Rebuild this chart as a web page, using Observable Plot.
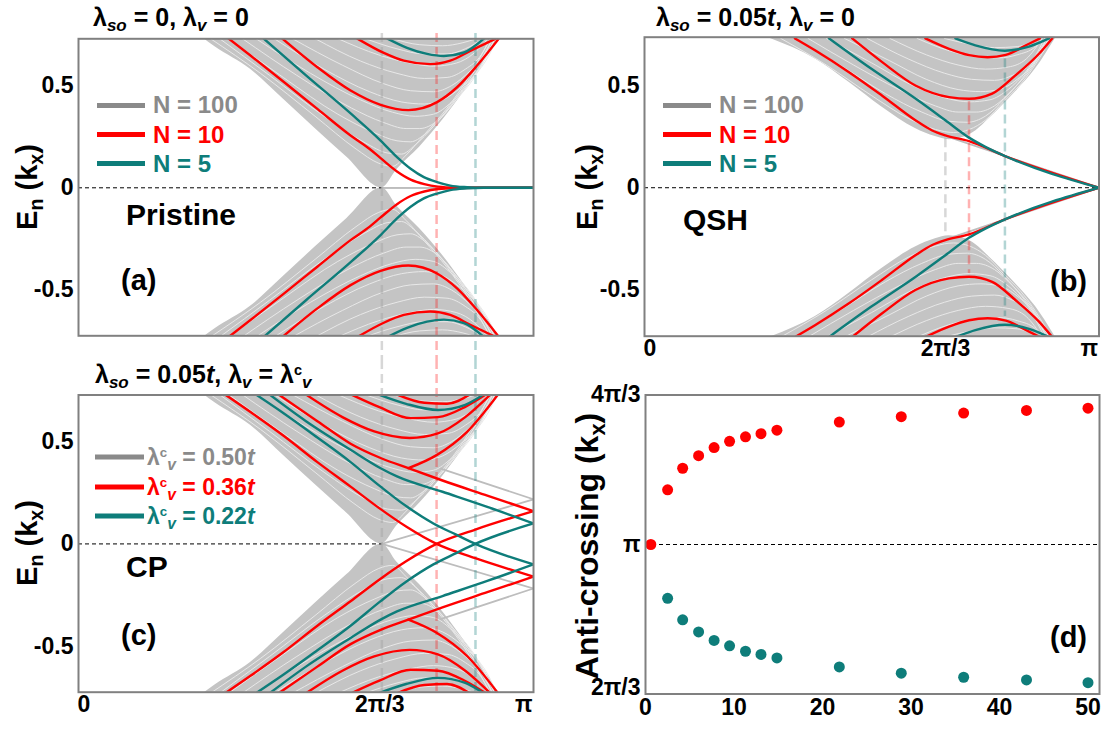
<!DOCTYPE html>
<html>
<head>
<meta charset="utf-8">
<script src="https://cdn.jsdelivr.net/npm/d3@7"></script>
<script src="https://cdn.jsdelivr.net/npm/@observablehq/plot@0.6"></script>
<style>
  html,body{margin:0;padding:0;background:#fff;}
  #fig{position:relative;width:1105px;height:732px;overflow:hidden;font-family:"Liberation Sans",Arial,Helvetica,sans-serif;font-weight:bold;color:#000;}
  #fig svg{position:absolute;background:transparent;}
  .lbl{position:absolute;white-space:nowrap;line-height:1;}
  .lbl sub, .leg sub{font-size:0.68em;vertical-align:-0.32em;line-height:0;}
  .lbl sup, .leg sup{font-size:0.58em;vertical-align:0.55em;line-height:0;font-style:normal;}
  .leg{position:absolute;display:flex;align-items:center;white-space:nowrap;line-height:1;}
  .sw{display:inline-block;height:5px;}
</style>
</head>
<body>
<div id="fig"></div>
<script>
// ---------------- colours / fonts ----------------
const RED = "#ff0000", TEAL = "#0e7d7a", BAND_GRAY = "#c4c4c4", STRIPE = "#e8e8e8", LEG_GRAY = "#8a8a8a";
const FONT = '"Liberation Sans", Arial, Helvetica, sans-serif';

// ---------------- shared tick data ----------------
const eTicks = [0.5, 0, -0.5];
const eTickText = ["0.5", "0", "-0.5"];
const kTicks = [0, 2/3, 1];                 // in units of π
const kTickText = ["0", "2π/3", "π"];
const nTicks = [0, 10, 20, 30, 40, 50];
const acTicks = [4/3, 1, 2/3];              // in units of π
const acTickText = ["4π/3", "π", "2π/3"];

// ---------------- panel (a): pristine (upper half, k in units of π) ----------------
const aFan = [[0.275,0.73],[0.30,0.69],[0.378,0.58],[0.45,0.434],[0.52,0.29],[0.59,0.15],[0.6667,0.0],[0.70,0.09],[0.75,0.20],[0.80,0.33],[0.85,0.48],[0.925,0.73]];
const aStripes = [
  [[0.29,0.73],[0.40,0.56],[0.52,0.35],[0.61,0.19],[0.66,0.12],[0.69,0.105],[0.72,0.16],[0.76,0.26],[0.81,0.39],[0.86,0.55],[0.905,0.73]],
  [[0.31,0.73],[0.42,0.55],[0.54,0.35],[0.63,0.22],[0.68,0.17],[0.71,0.165],[0.74,0.21],[0.78,0.30],[0.83,0.44],[0.87,0.57],[0.91,0.73]],
  [[0.33,0.73],[0.45,0.54],[0.57,0.36],[0.65,0.27],[0.70,0.23],[0.73,0.225],[0.76,0.26],[0.80,0.35],[0.85,0.49],[0.89,0.62],[0.915,0.73]],
  [[0.36,0.73],[0.48,0.55],[0.60,0.39],[0.67,0.32],[0.72,0.29],[0.75,0.29],[0.79,0.33],[0.83,0.43],[0.87,0.54],[0.915,0.73]],
  [[0.39,0.73],[0.51,0.56],[0.62,0.43],[0.69,0.37],[0.74,0.35],[0.78,0.36],[0.82,0.42],[0.86,0.52],[0.90,0.64],[0.92,0.73]],
  [[0.43,0.73],[0.54,0.58],[0.64,0.47],[0.71,0.42],[0.76,0.41],[0.80,0.43],[0.84,0.49],[0.88,0.58],[0.915,0.73]],
  [[0.47,0.73],[0.58,0.60],[0.67,0.51],[0.73,0.475],[0.78,0.47],[0.82,0.50],[0.86,0.57],[0.89,0.64],[0.91,0.73]],
  [[0.52,0.73],[0.62,0.62],[0.70,0.56],[0.76,0.535],[0.81,0.54],[0.85,0.58],[0.885,0.65],[0.905,0.73]],
  [[0.57,0.73],[0.66,0.65],[0.73,0.61],[0.78,0.595],[0.83,0.61],[0.87,0.66],[0.90,0.73]],
  [[0.63,0.73],[0.70,0.68],[0.76,0.655],[0.81,0.655],[0.85,0.68],[0.89,0.73]],
  [[0.69,0.73],[0.75,0.70],[0.80,0.695],[0.845,0.71],[0.875,0.73]]
];
const aGray = [[[0.6667,0],[1.0,0]]];
const aRed = [
  [[0.33,0.73],[0.378,0.647],[0.45,0.52],[0.525,0.386],[0.598,0.256],[0.64,0.19],[0.664,0.145],[0.70,0.08],[0.73,0.04],[0.76,0.018],[0.79,0.006],[0.83,0.001],[0.87,0],[1.0,0]],
  [[0.448,0.73],[0.525,0.59],[0.598,0.476],[0.664,0.406],[0.725,0.38],[0.788,0.419],[0.832,0.492],[0.876,0.598],[0.924,0.73]],
  [[0.613,0.73],[0.671,0.66],[0.715,0.622],[0.773,0.605],[0.817,0.622],[0.861,0.67],[0.917,0.73]]
];
const aTeal = [
  [[0.407,0.73],[0.50,0.55],[0.60,0.36],[0.664,0.231],[0.70,0.15],[0.73,0.093],[0.759,0.052],[0.788,0.028],[0.817,0.011],[0.854,0.003],[0.89,0],[1.0,0]],
  [[0.679,0.73],[0.722,0.685],[0.766,0.655],[0.803,0.645],[0.847,0.662],[0.891,0.73]]
];
const aZeroSpan = [[0, 2/3]];

// ---------------- panel (b): QSH ----------------
const bFan = [[0.277,0.73],[0.376,0.63],[0.45,0.516],[0.523,0.394],[0.596,0.29],[0.64,0.25],[0.67,0.235],[0.70,0.245],[0.73,0.28],[0.758,0.337],[0.816,0.468],[0.86,0.58],[0.904,0.73]];
const bStripes = [
  [[0.30,0.73],[0.40,0.60],[0.50,0.45],[0.58,0.34],[0.64,0.285],[0.68,0.27],[0.715,0.285],[0.75,0.33],[0.79,0.42],[0.84,0.54],[0.895,0.73]],
  [[0.33,0.73],[0.43,0.60],[0.53,0.46],[0.61,0.37],[0.67,0.325],[0.71,0.32],[0.75,0.35],[0.79,0.43],[0.84,0.56],[0.89,0.73]],
  [[0.36,0.73],[0.46,0.60],[0.56,0.48],[0.64,0.40],[0.69,0.37],[0.73,0.37],[0.77,0.40],[0.81,0.48],[0.85,0.58],[0.89,0.73]],
  [[0.40,0.73],[0.50,0.61],[0.59,0.50],[0.66,0.44],[0.715,0.42],[0.76,0.43],[0.80,0.48],[0.84,0.57],[0.885,0.73]],
  [[0.44,0.73],[0.54,0.62],[0.62,0.53],[0.69,0.48],[0.74,0.47],[0.78,0.48],[0.82,0.53],[0.86,0.62],[0.885,0.73]],
  [[0.49,0.73],[0.58,0.63],[0.66,0.56],[0.72,0.53],[0.77,0.525],[0.81,0.55],[0.85,0.61],[0.88,0.73]],
  [[0.54,0.73],[0.62,0.65],[0.69,0.60],[0.75,0.58],[0.80,0.59],[0.84,0.63],[0.875,0.73]],
  [[0.60,0.73],[0.67,0.67],[0.73,0.64],[0.78,0.635],[0.82,0.65],[0.86,0.69],[0.875,0.73]],
  [[0.66,0.73],[0.72,0.70],[0.77,0.685],[0.82,0.69],[0.865,0.73]]
];
const bGray = [[[0.6667,0.25],[1.0,0.0]]];
const bRed = [
  [[0.331,0.73],[0.376,0.671],[0.45,0.565],[0.523,0.45],[0.596,0.33],[0.633,0.28],[0.662,0.256],[0.714,0.228],[0.793,0.155],[1.0,0.0]],
  [[0.457,0.73],[0.523,0.614],[0.596,0.50],[0.67,0.443],[0.714,0.435],[0.765,0.46],[0.816,0.549],[0.868,0.655],[0.897,0.73]],
  [[0.618,0.73],[0.67,0.679],[0.714,0.648],[0.755,0.638],[0.795,0.65],[0.846,0.704],[0.87,0.73]]
];
const bTeal = [
  [[0.406,0.73],[0.50,0.58],[0.60,0.43],[0.662,0.33],[0.714,0.245],[0.75,0.20],[0.793,0.155],[1.0,0.0]],
  [[0.684,0.73],[0.728,0.696],[0.793,0.67],[0.846,0.69],[0.89,0.73]]
];
const bZeroSpan = [[0, 1]];
const bGuides = [{k:0.662, ext:0.24, c:"gray"}, {k:0.714, ext:0.42, c:"red"}, {k:0.793, ext:0.63, c:"teal"}];

// ---------------- panel (c): CP ----------------
const cFan = [[0.275,0.73],[0.30,0.69],[0.378,0.58],[0.45,0.434],[0.52,0.29],[0.59,0.15],[0.6667,0.0],[0.70,0.09],[0.75,0.20],[0.80,0.33],[0.85,0.48],[0.924,0.73]];
const cStripes = [
  [[0.29,0.73],[0.40,0.56],[0.52,0.35],[0.61,0.19],[0.66,0.12],[0.69,0.105],[0.72,0.16],[0.76,0.26],[0.81,0.39],[0.86,0.55],[0.905,0.73]],
  [[0.31,0.73],[0.42,0.55],[0.54,0.35],[0.63,0.22],[0.68,0.17],[0.71,0.165],[0.74,0.21],[0.78,0.30],[0.83,0.44],[0.87,0.57],[0.91,0.73]],
  [[0.33,0.73],[0.45,0.54],[0.57,0.36],[0.65,0.27],[0.70,0.23],[0.73,0.225],[0.76,0.26],[0.80,0.35],[0.85,0.49],[0.89,0.62],[0.915,0.73]],
  [[0.36,0.73],[0.48,0.55],[0.60,0.39],[0.67,0.32],[0.72,0.29],[0.75,0.29],[0.79,0.33],[0.83,0.43],[0.87,0.54],[0.915,0.73]],
  [[0.39,0.73],[0.51,0.56],[0.62,0.43],[0.69,0.37],[0.74,0.35],[0.78,0.36],[0.82,0.42],[0.86,0.52],[0.90,0.64],[0.92,0.73]],
  [[0.43,0.73],[0.54,0.58],[0.64,0.47],[0.71,0.42],[0.76,0.41],[0.80,0.43],[0.84,0.49],[0.88,0.58],[0.915,0.73]],
  [[0.47,0.73],[0.58,0.60],[0.67,0.51],[0.73,0.475],[0.78,0.47],[0.82,0.50],[0.86,0.57],[0.89,0.64],[0.91,0.73]],
  [[0.52,0.73],[0.62,0.62],[0.70,0.56],[0.76,0.535],[0.81,0.54],[0.85,0.58],[0.885,0.65],[0.905,0.73]],
  [[0.57,0.73],[0.66,0.65],[0.73,0.61],[0.78,0.595],[0.83,0.61],[0.87,0.66],[0.90,0.73]],
  [[0.63,0.73],[0.70,0.68],[0.76,0.655],[0.81,0.655],[0.85,0.68],[0.89,0.73]],
  [[0.69,0.73],[0.75,0.70],[0.80,0.695],[0.845,0.71],[0.875,0.73]]
];
const cGray = [
  [[0.6667,0],[1.0,-0.218]],
  [[0.796,0.368],[1.0,0.218]]
];
const cRed = [
  [[0.3225,0.73],[0.378,0.645],[0.45,0.53],[0.525,0.40],[0.598,0.28],[0.664,0.17],[0.72,0.085],[0.787,0],[0.872,-0.07],[1.0,-0.16]],
  [[0.44,0.73],[0.525,0.60],[0.598,0.49],[0.664,0.42],[0.725,0.37],[0.80,0.31],[0.90,0.235],[1.0,0.16]],
  [[0.725,0.37],[0.787,0.434],[0.854,0.548],[0.922,0.73]],
  [[0.50,0.73],[0.58,0.62],[0.65,0.55],[0.728,0.518],[0.79,0.54],[0.85,0.62],[0.905,0.73]],
  [[0.60,0.73],[0.66,0.67],[0.73,0.615],[0.79,0.62],[0.85,0.67],[0.895,0.73]],
  [[0.70,0.73],[0.76,0.69],[0.81,0.685],[0.86,0.73]]
];
const cTeal = [
  [[0.39,0.73],[0.45,0.64],[0.525,0.52],[0.598,0.40],[0.664,0.28],[0.72,0.185],[0.78,0.10],[0.83,0.045],[0.872,0],[1.0,-0.10]],
  [[0.42,0.73],[0.50,0.60],[0.598,0.46],[0.664,0.37],[0.70,0.33],[0.80,0.255],[0.90,0.18],[1.0,0.10]],
  [[0.66,0.73],[0.72,0.685],[0.79,0.655],[0.85,0.68],[0.89,0.73]]
];
const cZeroSpan = [[0, 2/3]];
// anti-crossing guides shared by (a) and (c)
const acGuides = [{k:0.6667, c:"gray"}, {k:0.787, c:"red"}, {k:0.8725, c:"teal"}];

// ---------------- panel (d): anti-crossing positions (units of π) ----------------
const dRedN  = [0.6, 2.5, 4.2, 6.0, 7.75, 9.5, 11.3, 13.05, 14.85, 21.9, 28.9, 35.95, 43.05, 50];
const dRedK  = [1.0, 1.122, 1.170, 1.198, 1.216, 1.230, 1.240, 1.247, 1.255, 1.273, 1.285, 1.293, 1.299, 1.304];
const dTealN = [2.5, 4.2, 6.0, 7.75, 9.5, 11.3, 13.05, 14.85, 21.9, 28.9, 35.95, 43.05, 50];
const dTealK = [0.880, 0.832, 0.805, 0.786, 0.774, 0.762, 0.755, 0.747, 0.727, 0.713, 0.704, 0.698, 0.692];

// ---------------- helpers ----------------
const GUIDE = {gray: ["#a0a0a0", 0.42], red: [RED, 0.3], teal: [TEAL, 0.32]};
function rows(bands) {
  const out = [];
  bands.forEach((b, i) => {
    b.forEach(([k, e]) => out.push({id: i + "u", k, e}));
    b.forEach(([k, e]) => out.push({id: i + "d", k, e: -e}));   // particle-hole mirror
  });
  return out;
}
function fanRows(b) {
  const out = [];
  b.forEach(([k, e]) => out.push({id: "u", k, e, top: 0.9}));
  b.forEach(([k, e]) => out.push({id: "d", k, e: -e, top: -0.9}));
  return out;
}
function bandMarks(fan, stripes, gray, zeroSpan, guides, red, teal) {
  return [
    Plot.areaY(fanRows(fan), {x: "k", y1: "e", y2: "top", z: "id", fill: BAND_GRAY, curve: "monotone-x", clip: true}),
    Plot.line(rows(stripes), {x: "k", y: "e", z: "id", stroke: STRIPE, strokeWidth: 1, curve: "monotone-x", clip: true}),
    Plot.line(rows(gray), {x: "k", y: "e", z: "id", stroke: "#bdbdbd", strokeWidth: 1.8, clip: true}),
    Plot.ruleY(zeroSpan, {y: () => 0, x1: d => d[0], x2: d => d[1], stroke: "#000", strokeWidth: 1, strokeDasharray: "4,3"}),
    ...guides,
    Plot.line(rows(red), {x: "k", y: "e", z: "id", stroke: RED, strokeWidth: 2.4, curve: "monotone-x", clip: true}),
    Plot.line(rows(teal), {x: "k", y: "e", z: "id", stroke: TEAL, strokeWidth: 2.4, curve: "monotone-x", clip: true}),
    Plot.frame({stroke: "#808080", strokeWidth: 2})
  ];
}
const TXT = {fontFamily: FONT, fontWeight: "bold", fill: "#000"};
function yTickMarks() {
  return [Plot.text(eTicks, {...TXT, y: d => d, text: (d, i) => eTickText[i], frameAnchor: "left", textAnchor: "end", dx: -5, fontSize: 23})];
}
function kTickMarks(dy) {
  return [
    Plot.text([kTicks[0]], {...TXT, x: d => d, text: () => kTickText[0], frameAnchor: "bottom", textAnchor: "start", dy, dx: -1, fontSize: 23}),
    Plot.text([kTicks[1]], {...TXT, x: d => d, text: () => kTickText[1], frameAnchor: "bottom", textAnchor: "middle", dy, dx: -2, fontSize: 23}),
    Plot.text([kTicks[2]], {...TXT, x: d => d, text: () => kTickText[2], frameAnchor: "bottom", textAnchor: "end", dy, dx: -1, fontSize: 23})
  ];
}

const fig = document.getElementById("fig");
function place(svg, left, top) { svg.style.left = left + "px"; svg.style.top = top + "px"; fig.appendChild(svg); }

// ---------------- panel (a) ----------------
const aGuideMarks = acGuides.map(g => Plot.ruleX([g], {x: "k", y1: () => 0.755, y2: () => -0.845, stroke: GUIDE[g.c][0], strokeOpacity: GUIDE[g.c][1], strokeWidth: 2.5, strokeDasharray: "9,5", clip: false}));
place(Plot.plot({
  width: 545, height: 360, marginLeft: 78, marginRight: 12, marginTop: 38.3, marginBottom: 24.7,
  x: {domain: [0, 1], axis: null}, y: {domain: [-0.724, 0.729], axis: null},
  style: {background: "transparent", overflow: "visible"},
  marks: [...bandMarks(aFan, aStripes, aGray, aZeroSpan, aGuideMarks, aRed, aTeal), ...yTickMarks()]
}), 0, 0);

// ---------------- panel (b) ----------------
const bGuideMarks = bGuides.map(g => Plot.ruleX([g], {x: "k", y1: d => d.ext, y2: d => -d.ext, stroke: GUIDE[g.c][0], strokeOpacity: GUIDE[g.c][1], strokeWidth: 2.5, strokeDasharray: "9,5"}));
place(Plot.plot({
  width: 545, height: 360, marginLeft: 84, marginRight: 6.5, marginTop: 36.7, marginBottom: 24.3,
  x: {domain: [0, 1], axis: null}, y: {domain: [-0.726, 0.736], axis: null},
  style: {background: "transparent", overflow: "visible"},
  marks: [...bandMarks(bFan, bStripes, bGray, bZeroSpan, bGuideMarks, bRed, bTeal), ...yTickMarks(), ...kTickMarks(20)]
}), 560, 0);

// ---------------- panel (c) ----------------
const cGuideMarks = acGuides.map(g => Plot.ruleX([g], {x: "k", y1: () => 0.897, y2: () => -0.745, stroke: GUIDE[g.c][0], strokeOpacity: GUIDE[g.c][1], strokeWidth: 2.5, strokeDasharray: "9,5", clip: false}));
place(Plot.plot({
  width: 545, height: 372, marginLeft: 78, marginRight: 12, marginTop: 34.5, marginBottom: 40.3,
  x: {domain: [0, 1], axis: null}, y: {domain: [-0.725, 0.728], axis: null},
  style: {background: "transparent", overflow: "visible"},
  marks: [...bandMarks(cFan, cStripes, cGray, cZeroSpan, cGuideMarks, cRed, cTeal), ...yTickMarks(), ...kTickMarks(20)]
}), 0, 360);

// ---------------- panel (d) ----------------
const dRed = dRedN.map((n, i) => ({n, v: dRedK[i]}));
const dTeal = dTealN.map((n, i) => ({n, v: dTealK[i]}));
place(Plot.plot({
  width: 545, height: 372, marginLeft: 85, marginRight: 6, marginTop: 34.5, marginBottom: 38.5,
  x: {domain: [0, 51.3], axis: null}, y: {domain: [2/3, 4/3], axis: null},
  style: {background: "transparent", overflow: "visible"},
  marks: [
    Plot.ruleY([1], {stroke: "#000", strokeWidth: 1, strokeDasharray: "4,3"}),
    Plot.dot(dRed, {x: "n", y: "v", r: 5.5, fill: RED, stroke: "none"}),
    Plot.dot(dTeal, {x: "n", y: "v", r: 5.5, fill: TEAL, stroke: "none"}),
    Plot.frame({stroke: "#808080", strokeWidth: 2}),
    Plot.text(nTicks, {...TXT, x: d => d, text: d => String(d), frameAnchor: "bottom", dy: 21, fontSize: 23}),
    Plot.text(acTicks.slice(0, 2), {...TXT, y: d => d, text: (d, i) => acTickText[i], frameAnchor: "left", textAnchor: "end", dx: -5, fontSize: 23}),
    Plot.text(acTicks.slice(2), {...TXT, y: d => d, text: () => acTickText[2], frameAnchor: "left", textAnchor: "end", dx: -5, dy: -6, fontSize: 23})
  ]
}), 560, 360);

// ---------------- text overlays ----------------
function label(html, x, y, size, opts = {}) {
  const d = document.createElement("div");
  d.className = "lbl";
  d.innerHTML = html;
  d.style.left = x + "px"; d.style.top = y + "px";
  d.style.fontSize = size + "px";
  if (opts.color) d.style.color = opts.color;
  d.style.transform = opts.rotate ? "translate(-50%,-50%) rotate(-90deg)" : (opts.center ? "translate(-50%,-50%)" : "translate(0,-50%)");
  fig.appendChild(d);
}
const LV = 'λ<sup>c</sup><sub><i>v</i></sub>';
// titles
label('λ<sub><i>so</i></sub> = 0, λ<sub><i>v</i></sub> = 0', 93, 17, 25);
label('λ<sub><i>so</i></sub> = 0.05<i>t</i>, λ<sub><i>v</i></sub> = 0', 656, 17, 25);
label('λ<sub><i>so</i></sub> = 0.05<i>t</i>, λ<sub><i>v</i></sub> = ' + LV, 95, 374, 25);
// axis titles
const EN = 'E<sub>n</sub> (k<sub>x</sub>)';
label(EN, 27, 187, 29, {rotate: true});
label(EN, 587, 187, 29, {rotate: true});
label(EN, 27, 543, 29, {rotate: true});
label('Anti-crossing (k<sub>x</sub>)', 587, 546, 32, {rotate: true});
// phase names and panel letters
label('Pristine', 126, 215, 30);
label('QSH', 683, 220, 30);
label('CP', 126, 567, 30);
label('(a)', 121, 280, 29);
label('(b)', 1050, 281, 29);
label('(c)', 121, 635, 29);
label('(d)', 1050, 637, 29);
// legends
function legend(items, x, ys, swW, gap, size) {
  items.forEach((it, i) => {
    const d = document.createElement("div");
    d.className = "leg";
    d.style.left = x + "px"; d.style.top = ys[i] + "px"; d.style.transform = "translate(0,-50%)";
    d.style.fontSize = size + "px"; d.style.color = it.color;
    d.innerHTML = `<span class="sw" style="width:${swW}px;background:${it.color};margin-right:${gap}px"></span><span>${it.text}</span>`;
    fig.appendChild(d);
  });
}
const nLegend = [{text: "N = 100", color: LEG_GRAY}, {text: "N = 10", color: RED}, {text: "N = 5", color: TEAL}];
legend(nLegend, 97, [105, 134.5, 163.5], 48, 8, 24);
legend(nLegend, 663, [105, 134.5, 163.5], 48, 8, 24);
const lvLegend = [{text: LV + " = 0.50<i>t</i>", color: LEG_GRAY}, {text: LV + " = 0.36<i>t</i>", color: RED}, {text: LV + " = 0.22<i>t</i>", color: TEAL}];
legend(lvLegend, 95, [457, 487, 516], 49, 3, 23);
</script>
</body>
</html>
